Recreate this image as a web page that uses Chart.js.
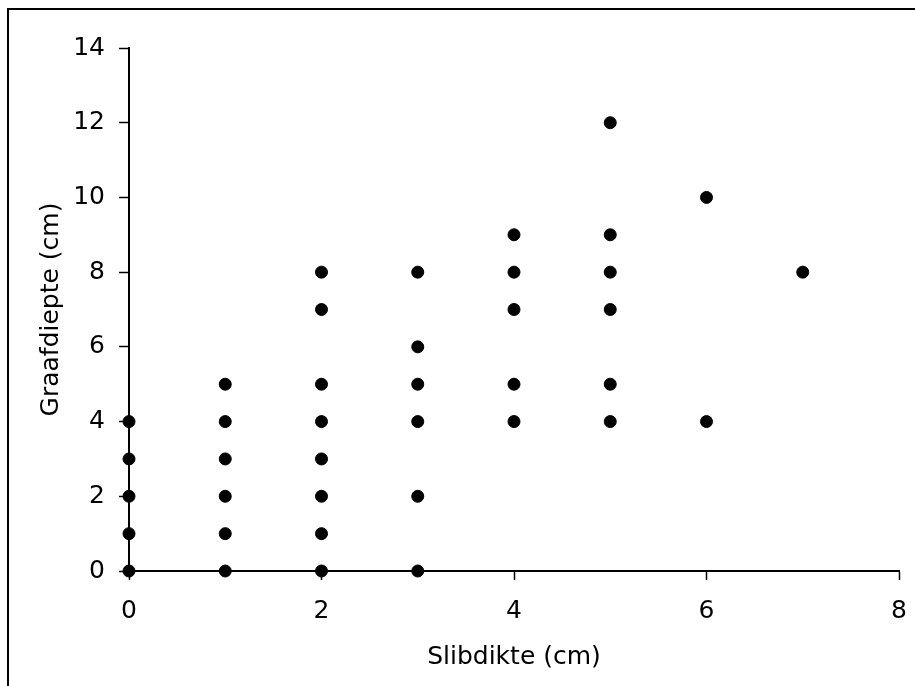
<!DOCTYPE html>
<html>
<head>
<meta charset="utf-8">
<script src="https://cdn.jsdelivr.net/npm/chart.js@4.4.1/dist/chart.umd.min.js"></script>
<style>
  html, body { margin: 0; padding: 0; background: #ffffff; }
  #wrap { position: relative; width: 915px; height: 686px; }
</style>
</head>
<body>
<div id="wrap"><canvas id="c" width="915" height="686"></canvas></div>
<script>
// Data (Slibdikte vs Graafdiepte)
const slibdikte   = [0,0,0,0,0, 1,1,1,1,1,1, 2,2,2,2,2,2,2,2, 3,3,3,3,3,3, 4,4,4,4,4, 5,5,5,5,5,5, 6,6, 7];
const graafdiepte = [0,1,2,3,4, 0,1,2,3,4,5, 0,1,2,3,4,5,7,8, 0,2,4,5,6,8, 4,5,7,8,9, 4,5,7,8,9,12, 4,10, 8];
const xTitle = 'Slibdikte (cm)';
const yTitle = 'Graafdiepte (cm)';
const xRange = [0, 8, 2];
const yRange = [0, 14, 2];

const points = slibdikte.map((x, i) => ({ x: x, y: graafdiepte[i] }));
const FONT = 'DejaVu Sans, Verdana, sans-serif';
const FS = 25;

const framePlugin = {
  id: 'frame',
  afterDraw(chart) {
    const ctx = chart.ctx;
    ctx.save();
    ctx.strokeStyle = '#000';
    ctx.lineWidth = 2;
    ctx.strokeRect(8, 9, 920, 720);
    ctx.restore();
  }
};

new Chart(document.getElementById('c'), {
  type: 'scatter',
  data: {
    datasets: [{
      data: points,
      backgroundColor: '#000',
      borderColor: '#000',
      borderWidth: 1,
      pointRadius: 6,
      pointHoverRadius: 6,
      clip: false
    }]
  },
  options: {
    responsive: false,
    animation: false,
    events: [],
    layout: { padding: { left: 0, right: 16, top: 48, bottom: 0 } },
    plugins: { legend: { display: false }, tooltip: { enabled: false } },
    scales: {
      x: {
        type: 'linear',
        min: xRange[0], max: xRange[1],
        afterFit(scale) { scale.height = 115; scale.paddingRight = 0; scale.paddingLeft = 0; },
        ticks: { stepSize: xRange[2], color: '#000', font: { family: FONT, size: FS }, padding: 16, maxRotation: 0 },
        grid: { display: true, drawOnChartArea: false, drawTicks: true, tickLength: 9, tickColor: '#000', tickWidth: 1.5 },
        border: { display: true, color: '#000', width: 2 },
        title: { display: true, text: xTitle, color: '#000', font: { family: FONT, size: FS }, padding: { top: 0, bottom: 14 } }
      },
      y: {
        type: 'linear',
        min: yRange[0], max: yRange[1],
        afterFit(scale) { scale.width = 129; scale.paddingTop = 0; scale.paddingBottom = 0; },
        ticks: { stepSize: yRange[2], color: '#000', font: { family: FONT, size: FS }, padding: 14 },
        grid: { display: true, drawOnChartArea: false, drawTicks: true, tickLength: 10, tickColor: '#000', tickWidth: 1.5 },
        border: { display: true, color: '#000', width: 2 },
        title: { display: true, text: yTitle, color: '#000', font: { family: FONT, size: FS }, padding: { top: 36, bottom: 0 } }
      }
    }
  },
  plugins: [framePlugin]
});
</script>
</body>
</html>
